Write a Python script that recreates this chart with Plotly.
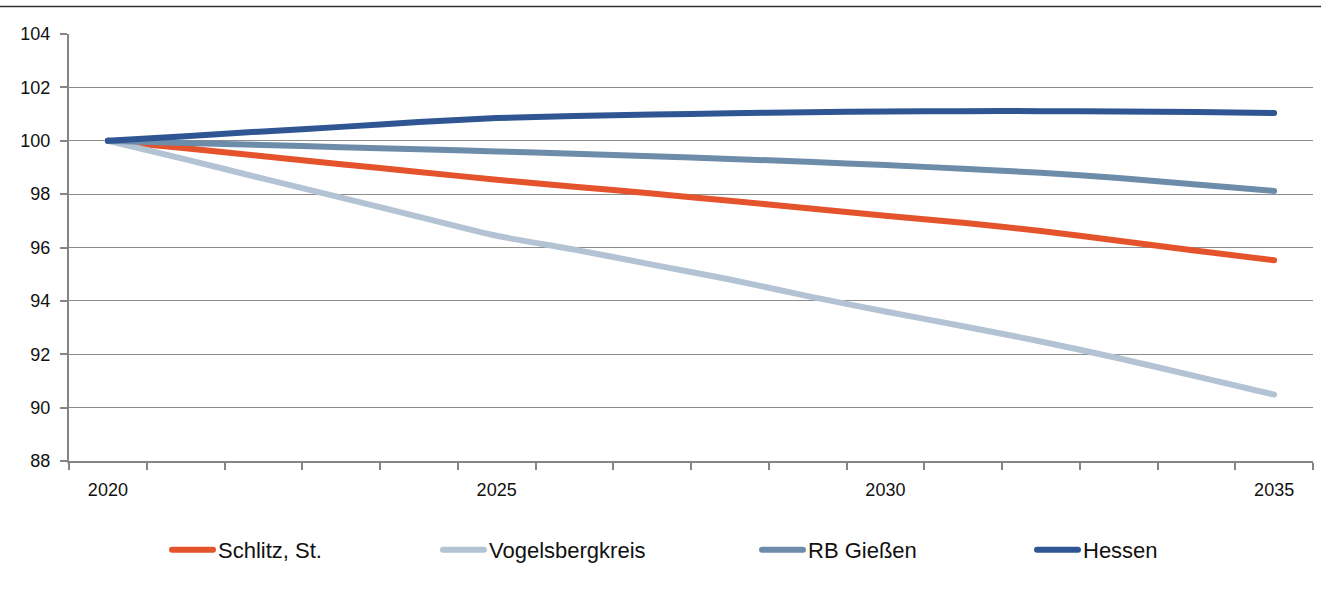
import plotly.graph_objects as go

years = list(range(2020, 2036))
schlitz = [100.0, 99.72, 99.42, 99.12, 98.83, 98.54, 98.28, 98.02, 97.75, 97.47, 97.19, 96.93, 96.62, 96.25, 95.88, 95.52]
vogelsberg = [100.0, 99.30, 98.58, 97.87, 97.15, 96.44, 95.92, 95.36, 94.80, 94.18, 93.60, 93.05, 92.48, 91.85, 91.17, 90.49]
rb_giessen = [100.0, 99.92, 99.84, 99.76, 99.68, 99.60, 99.51, 99.42, 99.32, 99.21, 99.09, 98.95, 98.80, 98.60, 98.36, 98.12]
hessen = [100.0, 100.17, 100.35, 100.52, 100.70, 100.85, 100.93, 100.98, 101.03, 101.07, 101.10, 101.11, 101.11, 101.10, 101.08, 101.04]

names = ["Schlitz, St.", "Vogelsbergkreis", "RB Gießen", "Hessen"]
colors = ["#E4532B", "#B3C3D3", "#6D8CAA", "#2F5693"]
series = [schlitz, vogelsberg, rb_giessen, hessen]

x_labels = [2020, 2025, 2030, 2035]
y_ticks = list(range(88, 105, 2))

W, H = 1324, 592
L, R, T, B = 69, 11, 34, 131
pw = W - L - R
ph = H - T - B

fig = go.Figure()
legend_text_px = [218, 489, 808, 1083]
legend_names = ["legend", "legend2", "legend3", "legend4"]
for i, (nm, c, s) in enumerate(zip(names, colors, series)):
    fig.add_trace(go.Scatter(
        x=years, y=s, name=nm, mode="lines",
        line=dict(color=c, width=6, shape="spline", smoothing=0.6),
        legend=legend_names[i],
    ))

legend_y = (H - B - 550) / ph
layout_legends = {}
for i, ln in enumerate(legend_names):
    xpx = legend_text_px[i] - 51
    layout_legends[ln] = dict(
        x=(xpx - L) / pw, y=legend_y, xanchor="left", yanchor="middle",
        orientation="h", bgcolor="rgba(0,0,0,0)", itemwidth=41,
        font=dict(family="Liberation Sans, Arial, sans-serif", size=22, color="#111111"),
    )

fig.update_layout(
    width=W, height=H,
    margin=dict(l=L, r=R, t=T, b=B),
    paper_bgcolor="white", plot_bgcolor="white",
    font=dict(family="Liberation Sans, Arial, sans-serif", size=18, color="#111111"),
    showlegend=True,
    **layout_legends,
)

fig.update_xaxes(
    range=[2019.5, 2035.5],
    tickmode="array", tickvals=x_labels, ticktext=[str(v) for v in x_labels],
    ticks="", ticklabelstandoff=11,
    showgrid=False, zeroline=False,
    showline=True, linecolor="#858585", linewidth=2,
    minor=dict(tickmode="array", tickvals=[y + 0.5 for y in range(2019, 2036)],
               ticks="outside", ticklen=7, tickwidth=2, tickcolor="#858585", showgrid=False),
    fixedrange=True,
)
fig.update_yaxes(
    range=[88, 104],
    tickmode="array", tickvals=y_ticks,
    ticks="outside", ticklen=7, tickwidth=2, tickcolor="#858585",
    ticklabelstandoff=6,
    showgrid=True, gridcolor="#8c8c8c", gridwidth=1,
    zeroline=False,
    showline=True, linecolor="#858585", linewidth=2,
    fixedrange=True,
)

# top rule line
fig.add_shape(type="line", xref="paper", yref="paper",
              x0=(0 - L) / pw, x1=(1321 - L) / pw,
              y0=(H - B - 6.5) / ph, y1=(H - B - 6.5) / ph,
              line=dict(color="#333333", width=1.5))

fig.write_html("out.html", config={"displayModeBar": False},
               post_script="document.body.style.margin='0';document.body.style.overflow='hidden';"
                           "document.querySelectorAll('path.js-line, .legendlines path').forEach(function(p){p.style.strokeLinecap='round';});")
